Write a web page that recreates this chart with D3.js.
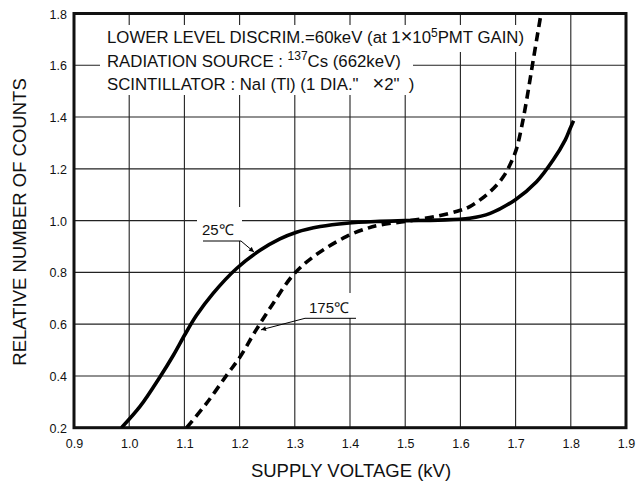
<!DOCTYPE html>
<html><head><meta charset="utf-8">
<script src="https://cdn.jsdelivr.net/npm/d3@7"></script>
<style>
html,body{margin:0;padding:0;background:#fff;}
svg text{font-family:"Liberation Sans",Arial,Helvetica,sans-serif;fill:#111;}
</style></head>
<body>
<svg id="chart" width="638" height="484"></svg>
<script>
// ---- data ----
const xTicks = [0.9, 1.0, 1.1, 1.2, 1.3, 1.4, 1.5, 1.6, 1.7, 1.8, 1.9];
const yTicks = [0.2, 0.4, 0.6, 0.8, 1.0, 1.2, 1.4, 1.6, 1.8];
const volts25 = [0.986, 1.020, 1.056, 1.080, 1.101, 1.122, 1.152, 1.195, 1.237, 1.273, 1.303, 1.346, 1.394, 1.454, 1.500, 1.560, 1.617, 1.654, 1.699, 1.738, 1.768, 1.790, 1.799, 1.805];
const counts25 = [0.200, 0.283, 0.397, 0.480, 0.560, 0.634, 0.719, 0.816, 0.885, 0.929, 0.955, 0.977, 0.990, 0.997, 1.000, 1.002, 1.009, 1.028, 1.080, 1.150, 1.234, 1.312, 1.357, 1.386];
const volts175 = [1.104, 1.140, 1.177, 1.201, 1.228, 1.261, 1.297, 1.334, 1.394, 1.431, 1.454, 1.500, 1.560, 1.600, 1.617, 1.654, 1.678, 1.693, 1.702, 1.711, 1.720, 1.729, 1.735, 1.741, 1.7455, 1.748];
const counts175 = [0.200, 0.294, 0.404, 0.474, 0.571, 0.681, 0.790, 0.861, 0.939, 0.970, 0.983, 0.997, 1.018, 1.040, 1.054, 1.112, 1.170, 1.230, 1.280, 1.363, 1.466, 1.582, 1.659, 1.736, 1.794, 1.850];
const seriesLabels = ["25℃", "175℃"];
const xTitle = "SUPPLY VOLTAGE (kV)";
const yTitle = "RELATIVE NUMBER OF COUNTS";

// ---- layout ----
const L = 74, R = 626, T = 13.5, B = 427.7;
const svg = d3.select("#chart");
const x = d3.scaleLinear().domain([0.9, 1.9]).range([L, R]);
const y = d3.scaleLinear().domain([0.2, 1.8]).range([B, T]);

// grid
const g = svg.append("g");
g.selectAll(".vg").data(xTicks.slice(1, -1)).enter().append("line")
  .attr("x1", d => x(d)).attr("x2", d => x(d)).attr("y1", T).attr("y2", B)
  .attr("stroke", "#222").attr("stroke-width", 1.1);
g.selectAll(".hg").data(yTicks.slice(1, -1)).enter().append("line")
  .attr("y1", d => y(d)).attr("y2", d => y(d)).attr("x1", L).attr("x2", R)
  .attr("stroke", "#222").attr("stroke-width", 1.1);

// axes tick labels using d3 axes (no domain/tick lines)
const xAxis = d3.axisBottom(x).tickValues(xTicks).tickFormat(d3.format(".1f")).tickSize(0).tickPadding(0);
const xa = svg.append("g").attr("transform", `translate(0,${B})`).call(xAxis);
xa.select(".domain").remove();
xa.selectAll("text").attr("font-size", 12.5).attr("dy", null).attr("y", 20)
  .style("font-family", '"Liberation Sans",Arial,sans-serif').attr("fill", "#111");
const yAxis = d3.axisLeft(y).tickValues(yTicks).tickFormat(d3.format(".1f")).tickSize(0).tickPadding(0);
const ya = svg.append("g").attr("transform", `translate(${L},0)`).call(yAxis);
ya.select(".domain").remove();
ya.selectAll("text").attr("font-size", 12.5).attr("x", -7).attr("dy", "0.36em")
  .style("font-family", '"Liberation Sans",Arial,sans-serif').attr("fill", "#111");

// axis titles
svg.append("text").attr("x", (L + R) / 2 + 1).attr("y", 476.5).attr("text-anchor", "middle")
  .attr("font-size", 18.5).text(xTitle);
svg.append("text").attr("transform", "translate(26,222) rotate(-90)").attr("text-anchor", "middle")
  .attr("font-size", 18.5).text(yTitle);

// annotation boxes (white backgrounds that interrupt the grid)
const ann = svg.append("g");
ann.append("rect").attr("x", 100).attr("y", 25).attr("width", 432).attr("height", 27).attr("fill", "#fff");
ann.append("rect").attr("x", 100).attr("y", 52).attr("width", 313).attr("height", 43).attr("fill", "#fff");
const fs = 16.8;
const t1 = ann.append("text").attr("x", 107).attr("y", 43.3).attr("font-size", fs);
t1.append("tspan").text("LOWER LEVEL DISCRIM.=60keV (at 1");
t1.append("tspan").attr("font-size", 20).text("×");
t1.append("tspan").text("10");
t1.append("tspan").attr("dy", -6.5).attr("font-size", 12).text("5");
t1.append("tspan").attr("dy", 6.5).text("PMT GAIN)");
const t2 = ann.append("text").attr("x", 107).attr("y", 66.5).attr("font-size", fs);
t2.append("tspan").text("RADIATION SOURCE : ");
t2.append("tspan").attr("dy", -6.5).attr("font-size", 12).text("137");
t2.append("tspan").attr("dy", 6.5).text("Cs (662keV)");
const t3 = ann.append("text").attr("x", 107).attr("y", 89.5).attr("font-size", fs).style("white-space", "pre");
t3.append("tspan").text("SCINTILLATOR : NaI (Tl) (1 DIA.\"   ");
t3.append("tspan").attr("font-size", 20).text("×");
t3.append("tspan").text("2\"  )");

// curve label boxes
svg.append("rect").attr("x", 197).attr("y", 207).attr("width", 45).attr("height", 34).attr("fill", "#fff");
svg.append("rect").attr("x", 305).attr("y", 293).attr("width", 50).attr("height", 25).attr("fill", "#fff");

// frame
svg.append("rect").attr("x", L).attr("y", T).attr("width", R - L).attr("height", B - T)
  .attr("fill", "none").attr("stroke", "#111").attr("stroke-width", 3);

// clip
svg.append("clipPath").attr("id", "clip").append("rect")
  .attr("x", L).attr("y", T).attr("width", R - L).attr("height", B - T);

const line = d3.line().x(d => x(d[0])).y(d => y(d[1])).curve(d3.curveCatmullRom.alpha(0.5));
const s25 = volts25.map((v, i) => [v, counts25[i]]);
const s175 = volts175.map((v, i) => [v, counts175[i]]);
const cg = svg.append("g").attr("clip-path", "url(#clip)");
cg.append("path").attr("d", line(s25)).attr("fill", "none").attr("stroke", "#000")
  .attr("stroke-width", 3.6).attr("stroke-linecap", "butt");
cg.append("path").attr("d", line(s175)).attr("fill", "none").attr("stroke", "#000")
  .attr("stroke-width", 3.6).attr("stroke-dasharray", "9,5.5");

// arrow marker
svg.append("defs").append("marker").attr("id", "arr").attr("viewBox", "0 0 10 10")
  .attr("refX", 10).attr("refY", 5).attr("markerWidth", 7).attr("markerHeight", 5)
  .attr("markerUnits", "userSpaceOnUse").attr("orient", "auto")
  .append("path").attr("d", "M0,0 L10,5 L0,10 z").attr("fill", "#000");

// 25C label
svg.append("text").attr("x", 202).attr("y", 235).attr("font-size", 15).text(seriesLabels[0]);
svg.append("path").attr("d", `M203,241 L241,241 L${x(1.226)},${y(0.875) - 1}`)
  .attr("fill", "none").attr("stroke", "#000").attr("stroke-width", 1).attr("marker-end", "url(#arr)");
// 175C label
svg.append("text").attr("x", 309).attr("y", 312.7).attr("font-size", 15).text(seriesLabels[1]);
svg.append("path").attr("d", `M356,318.3 L305,318.3 L${x(1.236) + 1.5},${y(0.578)}`)
  .attr("fill", "none").attr("stroke", "#000").attr("stroke-width", 1).attr("marker-end", "url(#arr)");
</script>
</body></html>
